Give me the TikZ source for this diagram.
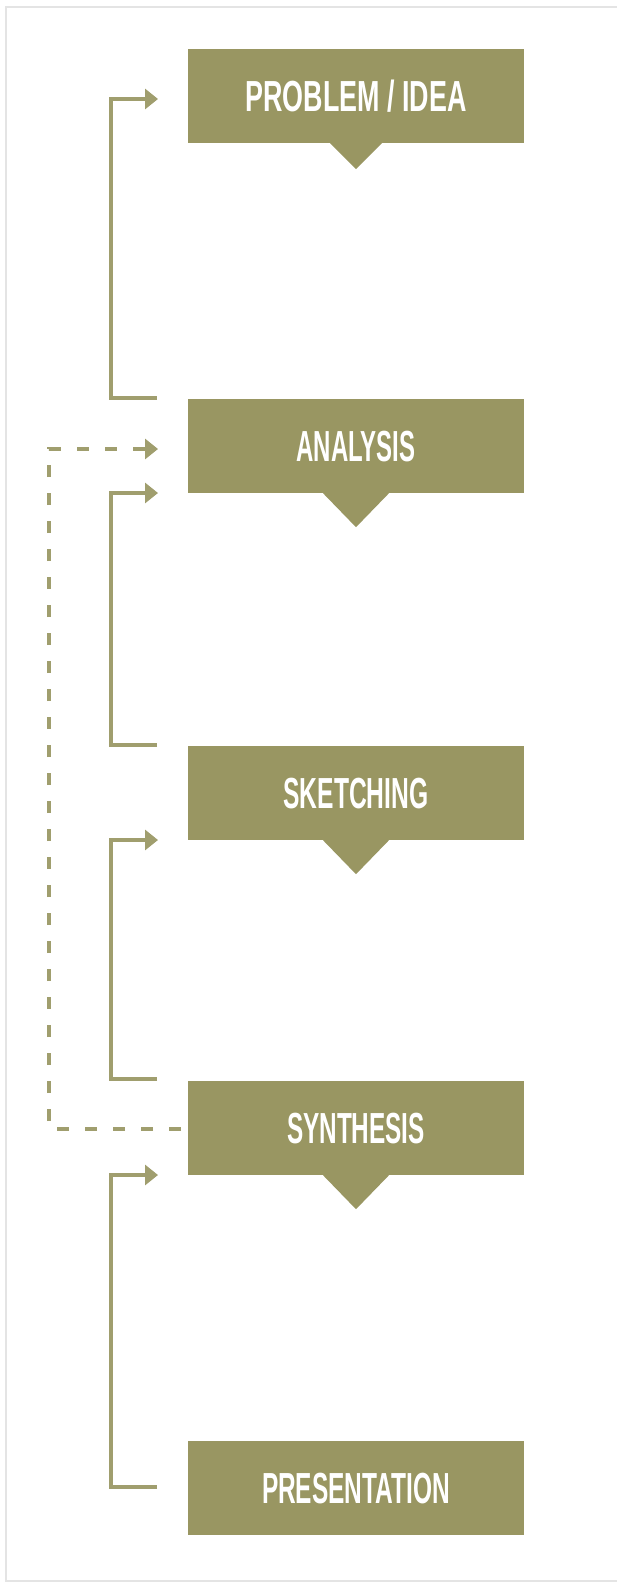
\documentclass[tikz,border=0pt]{standalone}
\usepackage{fontspec}
\setmainfont{Liberation Sans}
\usetikzlibrary{arrows.meta}
\definecolor{boxolive}{RGB}{153,150,98}
\definecolor{lineolive}{RGB}{160,158,110}
\definecolor{framegray}{RGB}{228,228,228}
\newcommand{\lbl}[2]{\resizebox{#1pt}{\height}{#2}}
\begin{document}
\begin{tikzpicture}[x=1pt,y=-1pt,
  stage/.style={fill=boxolive, minimum width=336pt, minimum height=94pt, inner sep=0pt,
    text=white, text height=31pt, text depth=0pt, font=\fontsize{43.5}{43.5}\selectfont\bfseries},
  pointer/.style={fill=boxolive},
  link/.style={draw=lineolive, line width=3.2pt},
  tipped/.style={-{Triangle[length=13pt,width=20pt]}},
  dashlink/.style={link, dash pattern=on 12pt off 16pt},
]
\useasboundingbox (0,0) rectangle (616,1582);
\draw[framegray, line width=1.5pt] (630,7) -- (6,7) -- (6,1581) -- (630,1581);

% stages
\node[stage] (b1) at (356,96)   {\lbl{221}{PROBLEM / IDEA}};
\node[stage] (b2) at (356,446)  {\lbl{119}{ANALYSIS}};
\node[stage] (b3) at (356,793)  {\lbl{145}{SKETCHING}};
\node[stage] (b4) at (356,1128) {\lbl{138}{SYNTHESIS}};
\node[stage] (b5) at (356,1487.5) {\lbl{188}{PRESENTATION}};

% pointers under the boxes
\fill[pointer] ([xshift=-26pt]b1.south) -- ([xshift=26pt]b1.south) -- ([yshift=-26pt]b1.south) -- cycle;
\fill[pointer] ([xshift=-33pt]b2.south) -- ([xshift=33pt]b2.south) -- ([yshift=-34pt]b2.south) -- cycle;
\fill[pointer] ([xshift=-33pt]b3.south) -- ([xshift=33pt]b3.south) -- ([yshift=-34pt]b3.south) -- cycle;
\fill[pointer] ([xshift=-33pt]b4.south) -- ([xshift=33pt]b4.south) -- ([yshift=-34pt]b4.south) -- cycle;

% coordinates of the feedback lines
\coordinate (s1) at (157,398);  \coordinate (t1) at (158,99);
\coordinate (s2) at (157,745);  \coordinate (t2) at (158,493);
\coordinate (s3) at (157,1079); \coordinate (t3) at (158,840);
\coordinate (s4) at (157,1487); \coordinate (t4) at (158,1175);
\coordinate (td) at (158,449);
\coordinate (sd) at (181,1129);

% solid feedback arrows
\draw[link, tipped] (s1) -- (111,398) -- (111,99) -- (t1);
\draw[link, tipped] (s2) -- (111,745) -- (111,493) -- (t2);
\draw[link, tipped] (s3) -- (111,1079) -- (111,840) -- (t3);
\draw[link, tipped] (s4) -- (111,1487) -- (111,1175) -- (t4);

% dashed return from synthesis to analysis
\draw[dashlink, tipped] (sd) -- (49,1129) -- (49,449) -- (td);
\end{tikzpicture}
\end{document}
